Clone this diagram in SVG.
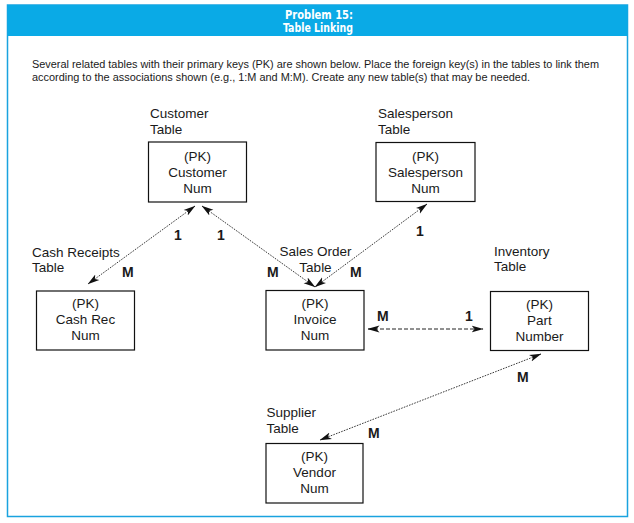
<svg xmlns="http://www.w3.org/2000/svg" width="634" height="523" viewBox="0 0 634 523">
<style>
.t{font-family:"Liberation Sans",Arial,sans-serif;font-size:13.5px;fill:#1a1a1a}
.c{text-anchor:middle}
.b{font-family:"Liberation Sans",Arial,sans-serif;font-size:14px;font-weight:bold;fill:#1a1a1a}
.p{font-family:"Liberation Sans",Arial,sans-serif;font-size:10px;fill:#1a1a1a}
.h{font-family:"DejaVu Sans Condensed","DejaVu Sans",sans-serif;font-size:12px;font-weight:bold;fill:#fff;text-anchor:middle}
.box{fill:#fff;stroke:#111;stroke-width:1.2}
.ln{fill:none;stroke:#222;stroke-width:0.9;stroke-dasharray:1.6 1.2}
.ld{fill:none;stroke:#222;stroke-width:1;stroke-dasharray:4 2}
</style>
<defs>
<marker id="ah" viewBox="0 0 12 8" refX="11.5" refY="4" markerWidth="12" markerHeight="8" markerUnits="userSpaceOnUse" orient="auto-start-reverse">
<path d="M0,0.5 L12,4 L0,7.5 L3,4 z" fill="#111"/>
</marker>
</defs>
<rect x="0" y="0" width="634" height="523" fill="#fff"/>
<g id="frame">
<rect x="7.5" y="5" width="620" height="511.5" fill="none" stroke="#1aa3df" stroke-width="1.5"/>
<rect x="7.5" y="5" width="620" height="31" fill="#0aaae6"/>
<text class="h" x="319" y="18.5" textLength="68" lengthAdjust="spacingAndGlyphs">Problem 15:</text>
<text class="h" x="318" y="32" textLength="70" lengthAdjust="spacingAndGlyphs">Table Linking</text>
<text class="p" x="32" y="68" textLength="567" lengthAdjust="spacingAndGlyphs">Several related tables with their primary keys (PK) are shown below. Place the foreign key(s) in the tables to link them</text>
<text class="p" x="32" y="80.5" textLength="498" lengthAdjust="spacingAndGlyphs">according to the associations shown (e.g., 1:M and M:M). Create any new table(s) that may be needed.</text>
</g>
<g id="connectors">
<line class="ln" x1="195" y1="206" x2="88" y2="284" marker-start="url(#ah)" marker-end="url(#ah)"/>
<line class="ln" x1="202" y1="206" x2="315" y2="287" marker-start="url(#ah)" marker-end="url(#ah)"/>
<line class="ln" x1="427" y1="204" x2="315" y2="287" marker-start="url(#ah)" marker-end="url(#ah)"/>
<line class="ld" x1="368" y1="329" x2="483" y2="329" marker-start="url(#ah)" marker-end="url(#ah)"/>
<line class="ln" x1="541" y1="354" x2="320" y2="440" marker-start="url(#ah)" marker-end="url(#ah)"/>
<text class="b" x="174" y="240">1</text>
<text class="b" x="217" y="240">1</text>
<text class="b" x="416" y="236">1</text>
<text class="b" x="122" y="277">M</text>
<text class="b" x="267" y="277">M</text>
<text class="b" x="350" y="277">M</text>
<text class="b" x="377" y="321">M</text>
<text class="b" x="465" y="321">1</text>
<text class="b" x="517" y="382">M</text>
<text class="b" x="368" y="438">M</text>
</g>
<g id="customer">
<text class="t" x="150" y="118">Customer</text>
<text class="t" x="150" y="133.5">Table</text>
<rect class="box" x="148.5" y="142" width="98" height="60"/>
<text class="t c" x="197.5" y="161">(PK)</text>
<text class="t c" x="197.5" y="177">Customer</text>
<text class="t c" x="197.5" y="192.5">Num</text>
</g>
<g id="salesperson">
<text class="t" x="378" y="118">Salesperson</text>
<text class="t" x="378" y="133.5">Table</text>
<rect class="box" x="376" y="142.5" width="99" height="59"/>
<text class="t c" x="425.5" y="161">(PK)</text>
<text class="t c" x="425.5" y="177">Salesperson</text>
<text class="t c" x="425.5" y="192.5">Num</text>
</g>
<g id="cashreceipts">
<text class="t" x="32" y="256.5">Cash Receipts</text>
<text class="t" x="32" y="271.5">Table</text>
<rect class="box" x="36.5" y="291" width="98" height="59"/>
<text class="t c" x="85.5" y="308">(PK)</text>
<text class="t c" x="85.5" y="324">Cash Rec</text>
<text class="t c" x="85.5" y="340">Num</text>
</g>
<g id="salesorder">
<text class="t c" x="315.5" y="255.5">Sales Order</text>
<text class="t c" x="315.5" y="272">Table</text>
<rect class="box" x="266" y="290.5" width="98" height="59.5"/>
<text class="t c" x="315" y="308">(PK)</text>
<text class="t c" x="315" y="324">Invoice</text>
<text class="t c" x="315" y="340">Num</text>
</g>
<g id="inventory">
<text class="t" x="494" y="255.5">Inventory</text>
<text class="t" x="494" y="271">Table</text>
<rect class="box" x="490.5" y="291.5" width="98" height="59"/>
<text class="t c" x="539.5" y="308.5">(PK)</text>
<text class="t c" x="539.5" y="324.5">Part</text>
<text class="t c" x="539.5" y="340.5">Number</text>
</g>
<g id="supplier">
<text class="t" x="266.5" y="417">Supplier</text>
<text class="t" x="266.5" y="433">Table</text>
<rect class="box" x="266" y="443.5" width="97" height="59.5"/>
<text class="t c" x="314.5" y="461">(PK)</text>
<text class="t c" x="314.5" y="477">Vendor</text>
<text class="t c" x="314.5" y="493">Num</text>
</g>
</svg>
